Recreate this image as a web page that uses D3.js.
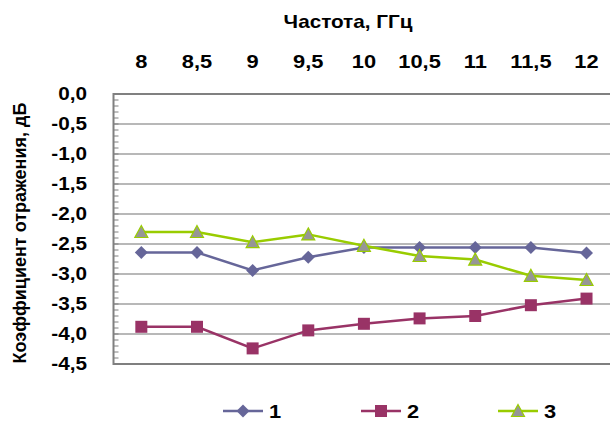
<!DOCTYPE html>
<html><head><meta charset="utf-8">
<script src="https://cdn.jsdelivr.net/npm/d3@7"></script>
<style>
html,body{margin:0;padding:0;background:#fff;}
svg{display:block;font-family:Arial,"Liberation Sans",sans-serif;}
</style></head>
<body>
<svg id="c" width="610" height="421"></svg>
<script>
const categories = ["8","8,5","9","9,5","10","10,5","11","11,5","12"];
const series1 = [-2.64,-2.64,-2.94,-2.72,-2.56,-2.56,-2.56,-2.56,-2.65];
const series2 = [-3.88,-3.88,-4.24,-3.94,-3.83,-3.74,-3.70,-3.52,-3.41];
const series3 = [-2.30,-2.30,-2.47,-2.34,-2.53,-2.70,-2.76,-3.03,-3.10];
const seriesNames = ["1","2","3"];
const yTicks = [0,-0.5,-1,-1.5,-2,-2.5,-3,-3.5,-4,-4.5];
const xTitle = "Частота, ГГц";
const yTitle = "Коэффициент отражения, дБ";

const svg = d3.select("#c");
const L = 113.5, T = 94, B = 364, band = 55.65;
const R = L + band * categories.length;
const SX = 1.15; // horizontal text stretch seen in the picture

const x = d3.scaleBand().domain(categories).range([L, R]);
const y = d3.scaleLinear().domain([0, -4.5]).range([T, B]);
const fmt = v => (v === 0 ? "0,0" : "-" + d3.format(".1f")(Math.abs(v)).replace(".", ","));

// gridlines
svg.append("g").selectAll("line").data(yTicks.filter(v => v < 0 && v > -4.5)).join("line")
  .attr("x1", L).attr("x2", R).attr("y1", d => y(d)).attr("y2", d => y(d))
  .attr("stroke", "#a0a0a0").attr("stroke-width", 1.4);

// top axis line (x axis at 0)
svg.append("line").attr("x1", L).attr("x2", R).attr("y1", y(0)).attr("y2", y(0))
  .attr("stroke", "#808080").attr("stroke-width", 2);
// bottom border
svg.append("line").attr("x1", L).attr("x2", R).attr("y1", y(-4.5)).attr("y2", y(-4.5))
  .attr("stroke", "#000").attr("stroke-width", 1.2);

// y axis with minor ticks
const minor = d3.range(0, 46).map(i => -i / 10);
svg.append("g").selectAll("line").data(minor).join("line")
  .attr("x1", L).attr("x2", L + 5).attr("y1", d => y(d)).attr("y2", d => y(d))
  .attr("stroke", "#808080").attr("stroke-width", 1);
svg.append("line").attr("x1", L).attr("x2", L).attr("y1", y(0) - 1).attr("y2", y(-4.5) + 1)
  .attr("stroke", "#808080").attr("stroke-width", 2);

// y tick labels
svg.append("g").selectAll("text").data(yTicks).join("text")
  .attr("transform", d => `translate(87,${y(d)}) scale(${SX},1)`).attr("dy", "0.36em")
  .attr("text-anchor", "end").attr("font-weight", "bold").attr("font-size", 18)
  .attr("fill", "#000").text(fmt);

// x tick labels (top)
svg.append("g").selectAll("text").data(categories).join("text")
  .attr("transform", d => `translate(${x(d) + x.bandwidth() / 2},68) scale(${SX},1)`)
  .attr("text-anchor", "middle").attr("font-weight", "bold").attr("font-size", 19)
  .text(d => d);

// titles
svg.append("text").attr("transform", `translate(348,28) scale(${SX},1)`).attr("text-anchor", "middle")
  .attr("font-weight", "bold").attr("font-size", 18).text(xTitle);
svg.append("text").attr("transform", "translate(26,233) rotate(-90)").attr("text-anchor", "middle")
  .attr("font-weight", "bold").attr("font-size", 18).text(yTitle);

// series
const allSeries = [
  {name: seriesNames[0], values: series1, stroke: "#666699", fill: "#666699", shape: "diamond"},
  {name: seriesNames[1], values: series2, stroke: "#993366", fill: "#993366", shape: "square"},
  {name: seriesNames[2], values: series3, stroke: "#99CC00", fill: "#969696", shape: "triangle"}
];
function shapePath(shape, cx, cy) {
  if (shape === "diamond") { const r = 6.5; return `M${cx},${cy-r}L${cx+r},${cy}L${cx},${cy+r}L${cx-r},${cy}Z`; }
  if (shape === "square") { const r = 6; return `M${cx-r},${cy-r}H${cx+r}V${cy+r}H${cx-r}Z`; }
  const r = 6.5; return `M${cx},${cy-r}L${cx+r},${cy+5.5}L${cx-r},${cy+5.5}Z`;
}
const line = d3.line().x((d, i) => x(categories[i]) + x.bandwidth() / 2).y(d => y(d));
allSeries.forEach(s => {
  const g = svg.append("g");
  g.append("path").attr("d", line(s.values)).attr("fill", "none")
    .attr("stroke", s.stroke).attr("stroke-width", 2.5);
  g.selectAll("path.m").data(s.values).join("path").attr("class", "m")
    .attr("d", (d, i) => shapePath(s.shape, x(categories[i]) + x.bandwidth() / 2, y(d)))
    .attr("fill", s.fill).attr("stroke", s.shape === "triangle" ? s.stroke : "none").attr("stroke-width", 1.2);
});

// legend
const legX = [223, 361, 498];
allSeries.forEach((s, i) => {
  const g = svg.append("g").attr("transform", `translate(${legX[i]},411)`);
  g.append("line").attr("x1", 0).attr("x2", 40).attr("y1", 0).attr("y2", 0)
    .attr("stroke", s.stroke).attr("stroke-width", 2.5);
  g.append("path").attr("d", shapePath(s.shape, 20, 0)).attr("fill", s.fill)
    .attr("stroke", s.shape === "triangle" ? s.stroke : "none").attr("stroke-width", 1.2);
  g.append("text").attr("transform", `translate(46,0) scale(${SX},1)`).attr("dy", "0.36em")
    .attr("font-weight", "bold").attr("font-size", 19).text(s.name);
});
</script>
</body></html>
